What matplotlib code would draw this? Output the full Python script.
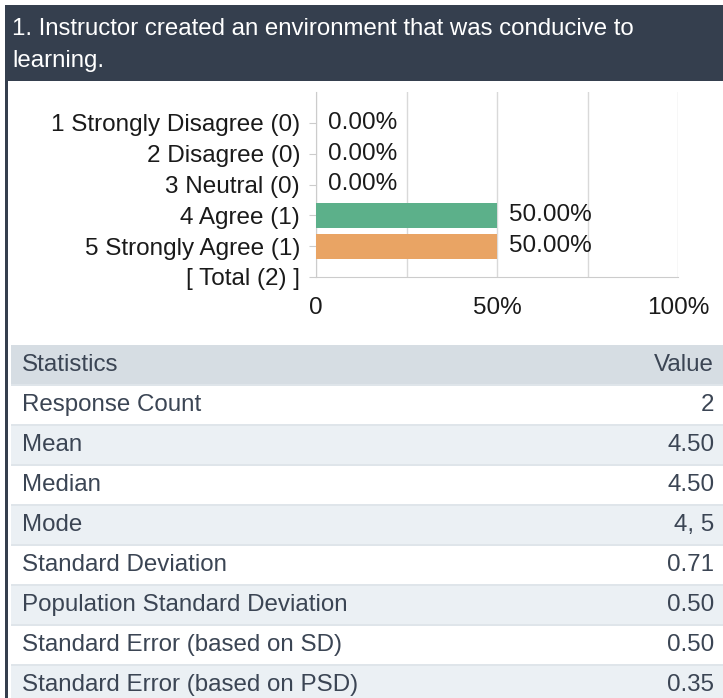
import matplotlib
matplotlib.use("Agg")
import matplotlib.pyplot as plt
from matplotlib.patches import Rectangle

plt.rcParams['font.family'] = ['Liberation Sans', 'DejaVu Sans']

# ---- data ----
title_lines = ["1. Instructor created an environment that was conducive to", "learning."]
categories = ["1 Strongly Disagree (0)", "2 Disagree (0)", "3 Neutral (0)",
              "4 Agree (1)", "5 Strongly Agree (1)", "[ Total (2) ]"]
percentages = [0.0, 0.0, 0.0, 50.0, 50.0, None]
bar_colors = ["#5cb08a", "#5cb08a", "#5cb08a", "#5cb08a", "#e9a464", "#5cb08a"]
x_ticks = [0, 50, 100]
x_tick_labels = ["0", "50%", "100%"]
stat_header = ["Statistics", "Value"]
stat_names = ["Response Count", "Mean", "Median", "Mode", "Standard Deviation",
              "Population Standard Deviation", "Standard Error (based on SD)",
              "Standard Error (based on PSD)"]
stat_values = ["2", "4.50", "4.50", "4, 5", "0.71", "0.50", "0.50", "0.35"]

W, H = 723, 698
fig = plt.figure(figsize=(W / 100, H / 100), dpi=100)
fig.patch.set_facecolor("white")

def fx(x):
    return x / W

def fy(y):
    return 1 - y / H

def rect(x0, y0, x1, y1, color):
    fig.patches.append(Rectangle((fx(x0), fy(y1)), fx(x1) - fx(x0), fy(y0) - fy(y1),
                                 transform=fig.transFigure, facecolor=color,
                                 edgecolor="none", zorder=0))

DARK = "#353f4e"
# header band
rect(5, 5, W, 81, DARK)
# left border
rect(5, 81, 8, H, DARK)
for i, line in enumerate(title_lines):
    fig.text(fx(12), fy(29 + 32 * i), line, color="white", fontsize=17.3,
             ha="left", va="center")

# ---- chart ----
FS = 17.5
ax = fig.add_axes([fx(316), fy(277), fx(678) - fx(316), fy(92) - fy(277)])
ypos = list(range(len(categories)))
vals = [v if v is not None else 0 for v in percentages]
ax.barh(ypos, vals, height=0.81, color=bar_colors, zorder=3)
ax.set_xlim(0, 100)
ax.set_ylim(5, -1)
ax.set_yticks(ypos)
ax.set_yticklabels(categories, fontsize=FS, color="#1a1a1a")
ax.set_xticks(x_ticks)
ax.set_xticklabels(x_tick_labels, fontsize=FS, color="#1a1a1a")
ax.set_xticks([25, 75], minor=True)
ax.tick_params(axis="y", length=5, color="#cccccc", pad=6.5)
ax.tick_params(axis="x", which="both", length=0, pad=14.5)
ax.grid(axis="x", which="both", color="#d9d9d9", lw=1, zorder=0)
for s in ["top", "right"]:
    ax.spines[s].set_visible(False)
ax.spines["left"].set_color("#cccccc")
ax.spines["bottom"].set_color("#cccccc")
for y, v in zip(ypos, percentages):
    if v is None:
        continue
    ax.annotate(f"{v:.2f}%", xy=(v, y), xytext=(8.5, 0), textcoords="offset points",
                va="center", ha="left", fontsize=FS, color="#1a1a1a")

# ---- statistics table ----
TXT = "#3b4554"
TFS = 17.4
row_h = 40
top = 345
rect(11, top, W, top + row_h, "#d6dde3")
fig.text(fx(22), fy(top + 20), stat_header[0], fontsize=TFS, color=TXT, ha="left", va="center")
fig.text(fx(714), fy(top + 20), stat_header[1], fontsize=TFS, color=TXT, ha="right", va="center")
for i, (n, v) in enumerate(zip(stat_names, stat_values)):
    y0 = top + row_h * (i + 1)
    bg = "white" if i % 2 == 0 else "#ebf0f4"
    rect(11, y0, W, y0 + row_h, bg)
    rect(11, y0 - 1, W, y0 + 1, "#dfe5ea")
    fig.text(fx(22), fy(y0 + 20), n, fontsize=TFS, color=TXT, ha="left", va="center")
    fig.text(fx(714), fy(y0 + 20), v, fontsize=TFS, color=TXT, ha="right", va="center")

fig.savefig("out.png", dpi=100)
